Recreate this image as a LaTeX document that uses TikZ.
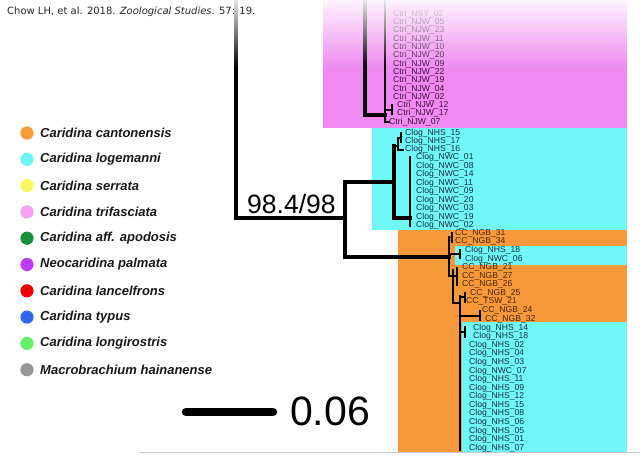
\documentclass[tikz,border=0pt]{standalone}
\usepackage{fontspec}
\setmainfont{Liberation Sans}
\newfontfamily\capfont{DejaVu Sans}
\usetikzlibrary{fadings}
\tikzfading[name=topfade, top color=transparent!8, bottom color=transparent!100]
\definecolor{pinkbg}{RGB}{240,138,242}
\definecolor{cyanbg}{RGB}{112,248,248}
\definecolor{orangebg}{RGB}{247,152,58}
\definecolor{pinklbl}{RGB}{60,15,60}
\definecolor{cyanlbl}{RGB}{16,48,64}
\definecolor{orangelbl}{RGB}{74,36,0}
\definecolor{capgray}{RGB}{40,40,40}
\definecolor{cOr}{RGB}{248,154,58}
\definecolor{cCy}{RGB}{110,245,245}
\definecolor{cYe}{RGB}{250,248,96}
\definecolor{cPi}{RGB}{245,160,240}
\definecolor{cGr}{RGB}{26,143,58}
\definecolor{cPu}{RGB}{192,60,240}
\definecolor{cRe}{RGB}{240,0,0}
\definecolor{cBl}{RGB}{51,102,240}
\definecolor{cLg}{RGB}{102,240,102}
\definecolor{cGy}{RGB}{150,150,150}
\begin{document}
\begin{tikzpicture}[x=1pt,y=-1pt,
  lbl/.style={anchor=west, inner sep=0pt, font=\fontsize{8.6}{8.6}\selectfont},
  plbl/.style={lbl, text=pinklbl},
  clbl/.style={lbl, text=cyanlbl},
  olbl/.style={lbl, text=orangelbl},
  trunk/.style={line width=3.5pt, line cap=rect, line join=miter},
  midbr/.style={line width=2.4pt, line cap=rect, line join=miter},
  twig/.style={line width=1.5pt, line cap=rect, line join=miter},
  legtxt/.style={anchor=west, inner sep=0pt, font=\fontsize{13}{13}\selectfont\bfseries\itshape, text=black!90}]
\useasboundingbox (0,0) rectangle (640,456);
\fill[white] (0,0) rectangle (640,456);
% coloured clade backgrounds
\fill[pinkbg] (323,0) rectangle (627,128);
\fill[cyanbg] (372,128) rectangle (627,230);
\fill[orangebg] (398,230) rectangle (627,452);
\fill[cyanbg] (455,246) rectangle (627,265);
\fill[cyanbg] (462,322) rectangle (627,452);
\draw[black!22, line width=1pt] (140,452.5) -- (640,452.5);
% ---------- main tree
\coordinate (rootT) at (236,-3);
\coordinate (rootC) at (236,218);
\coordinate (nA) at (345,218);
\coordinate (nAt) at (345,182);
\coordinate (nAb) at (345,257);
\draw[trunk] (rootT) -- (rootC) -- (nA);
\draw[trunk] (nAt) -- (nAb);
% pink clade
\coordinate (pA) at (365,-3);
\coordinate (pB) at (365,115);
\coordinate (pC) at (385,115);
\coordinate (pD) at (385,-3);
\coordinate (pE) at (385,122);
\coordinate (pF) at (389,122);
\coordinate (pG) at (385,110);
\coordinate (pH) at (392,110);
\coordinate (pI) at (392,105.5);
\coordinate (pJ) at (392,114);
\draw[trunk] (pA) -- (pB) -- (pC);
\draw[twig] (pD) -- (pE) -- (pF);
\draw[twig] (pG) -- (pH);
\draw[midbr] (pI) -- (pJ);
% cyan clade
\coordinate (cA) at (394,182);
\coordinate (cAt) at (394,146);
\coordinate (cAb) at (394,218);
\coordinate (cB) at (410,218);
\coordinate (cBt) at (410,157);
\coordinate (cBb) at (410,226);
\coordinate (cC) at (398,146);
\coordinate (cCt) at (398,138);
\coordinate (cCb) at (398,150);
\coordinate (cCe) at (403,150);
\coordinate (cD) at (401,138);
\coordinate (cDt) at (401,133);
\coordinate (cDb) at (401,141.5);
\draw[trunk] (nAt) -- (cA);
\draw[trunk] (cAt) -- (cAb) -- (cB);
\draw[midbr] (cBt) -- (cBb);
\draw[midbr] (cAt) -- (cC);
\draw[midbr] (cCt) -- (cCb) -- (cCe);
\draw[twig] (cCt) -- (cD);
\draw[midbr] (cDt) -- (cDb);
% orange clade
\coordinate (oA) at (449,257);
\coordinate (oAt) at (449,237.5);
\coordinate (oAb) at (449,276);
\coordinate (oB) at (452,237.5);
\coordinate (oBt) at (452,233);
\coordinate (oBb) at (452,242);
\coordinate (oC) at (449,254);
\coordinate (oCe) at (460,254);
\coordinate (oCt) at (460,250);
\coordinate (oCb) at (460,258);
\coordinate (oD) at (453,276);
\coordinate (oDt) at (453,270);
\coordinate (oDb) at (453,303);
\coordinate (oE) at (457,276);
\coordinate (oEt) at (457,268);
\coordinate (oEb) at (457,285);
\coordinate (oF) at (460,303);
\coordinate (oFt) at (460,296);
\coordinate (oFb) at (460,450);
\coordinate (oG) at (465,297);
\coordinate (oGt) at (465,293);
\coordinate (oGb) at (465,302);
\coordinate (oH) at (460,316);
\coordinate (oHe) at (480,316);
\coordinate (oHt) at (480,311);
\coordinate (oHb) at (480,320);
\coordinate (oI) at (460,332);
\coordinate (oIe) at (465,332);
\coordinate (oIt) at (465,327);
\coordinate (oIb) at (465,337);
\draw[trunk] (nAb) -- (oA);
\draw[midbr] (oAt) -- (oAb) -- (oD);
\draw[twig] (oAt) -- (oB);
\draw[twig] (oBt) -- (oBb);
\draw[twig] (oC) -- (oCe);
\draw[midbr] (oCt) -- (oCb);
\draw[midbr] (oDt) -- (oDb) -- (oF);
\draw[twig] (oD) -- (oE);
\draw[midbr] (oEt) -- (oEb);
\draw[twig] (oFt) -- (oFb);
\draw[twig] (oF |- oG) -- (oG);
\draw[twig] (oGt) -- (oGb);
\draw[midbr] (oH) -- (oHe);
\draw[midbr] (oHt) -- (oHb);
\draw[midbr] (oI) -- (oIe);
\draw[midbr] (oIt) -- (oIb);
% ---------- tip labels
\foreach \t/\x/\y [count=\i] in {Ctri\_NSY\_02/393/14.1, Ctri\_NJW\_05/393/22.4, Ctri\_NJW\_23/393/30.7,
  Ctri\_NJW\_11/393/39.0, Ctri\_NJW\_10/393/47.3, Ctri\_NJW\_20/393/55.6, Ctri\_NJW\_09/393/63.9,
  Ctri\_NJW\_22/393/72.2, Ctri\_NJW\_19/393/80.5, Ctri\_NJW\_04/393/88.8, Ctri\_NJW\_02/393/97.1,
  Ctri\_NJW\_12/397/105.4, Ctri\_NJW\_17/397/113.7, Ctri\_NJW\_07/389/122.0}
  \node[plbl] (p\i) at (\x,\y) {\t};
\foreach \t/\x/\y [count=\i] in {Clog\_NHS\_15/405/133, Clog\_NHS\_17/405/141, Clog\_NHS\_16/405/149.5,
  Clog\_NWC\_01/416/157.5, Clog\_NWC\_08/416/166, Clog\_NWC\_14/416/174.5, Clog\_NWC\_11/416/183,
  Clog\_NWC\_09/416/191.5, Clog\_NWC\_20/416/200, Clog\_NWC\_03/416/208.5, Clog\_NWC\_19/416/217,
  Clog\_NWC\_02/416/225}
  \node[clbl] (c\i) at (\x,\y) {\t};
\foreach \t/\x/\y/\s [count=\i] in {CC\_NGB\_31/455/233/olbl, CC\_NGB\_34/455/241.6/olbl,
  Clog\_NHS\_18/465/250.2/clbl, Clog\_NWC\_06/465/258.8/clbl, CC\_NGB\_21/462/267.4/olbl,
  CC\_NGB\_27/462/276/olbl, CC\_NGB\_26/462/284.6/olbl, CC\_NGB\_25/470/293.2/olbl,
  CC\_TSW\_21/466/301.8/olbl, CC\_NGB\_24/482/310.4/olbl, CC\_NGB\_32/485/319/olbl}
  \node[\s] (o\i) at (\x,\y) {\t};
\foreach \t/\x [count=\i from 0] in {Clog\_NHS\_14/473, Clog\_NHS\_18/473, Clog\_NHS\_02/469,
  Clog\_NHS\_04/469, Clog\_NHS\_03/469, Clog\_NWC\_07/469, Clog\_NHS\_11/469, Clog\_NHS\_09/469,
  Clog\_NHS\_12/469, Clog\_NHS\_15/469, Clog\_NHS\_08/469, Clog\_NHS\_06/469, Clog\_NHS\_05/469,
  Clog\_NHS\_01/469, Clog\_NHS\_07/469}
  \node[clbl] (b\i) at (\x,{328+8.57*\i}) {\t};
% ---------- fade at the top
\fill[white, path fading=topfade] (0,-1) rectangle (640,68);
% ---------- support value and scale
\node[anchor=base west, inner sep=0pt, font=\fontsize{26.5}{26.5}\selectfont] (sup) at (247,213) {98.4/98};
\coordinate (sbL) at (186,412);
\coordinate (sbR) at (273,412);
\draw[line width=8.5pt, line cap=round] (sbL) -- (sbR);
\node[anchor=base west, inner sep=0pt, font=\fontsize{41}{41}\selectfont] (scale) at (290,425) {0.06};
% ---------- legend
\foreach \c/\t [count=\i] in {cOr/Caridina cantonensis, cCy/Caridina logemanni, cYe/Caridina serrata,
  cPi/Caridina trifasciata, cGr/Caridina aff. apodosis, cPu/Neocaridina palmata,
  cRe/Caridina lancelfrons, cBl/Caridina typus, cLg/Caridina longirostris, cGy/Macrobrachium hainanense}
{
  \fill[\c] (27,{133+26.3*(\i-1)}) circle (6.6);
  \node[legtxt] (leg\i) at (40,{133+26.3*(\i-1)}) {\t};
}
% ---------- caption
\node[anchor=base west, inner sep=0pt, text=capgray, font=\capfont\fontsize{10}{12}\selectfont] (cap) at (7,14) {Chow LH, et al. 2018. \textit{Zoological Studies}. 57: 19.};
\end{tikzpicture}
\end{document}
